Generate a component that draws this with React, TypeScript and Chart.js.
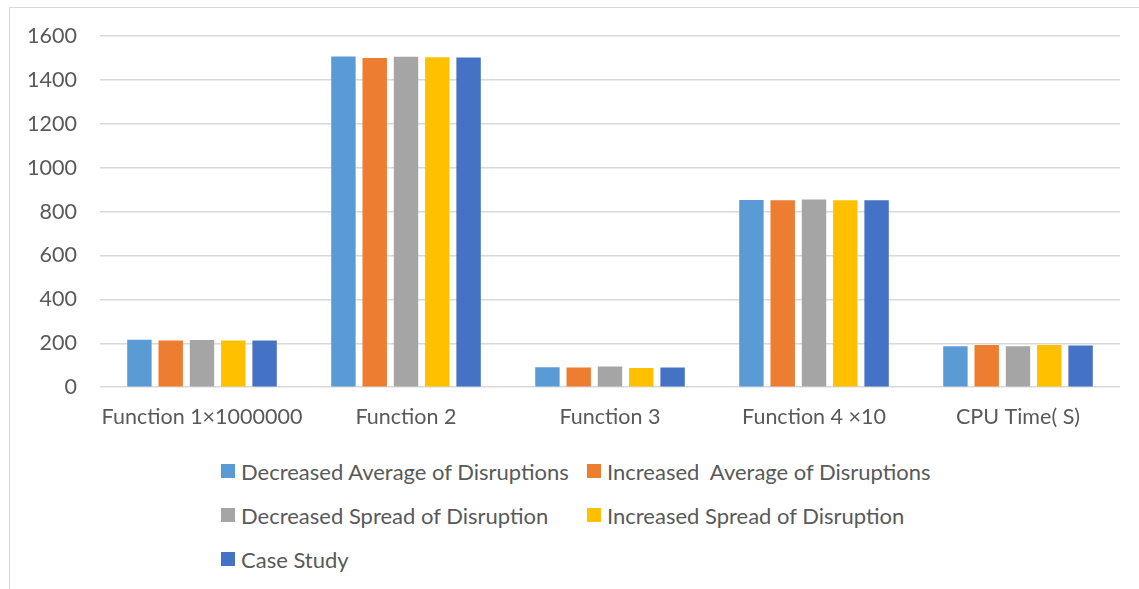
import React, { useEffect, useRef } from "react";
import { Chart, registerables } from "chart.js";

Chart.register(...registerables);

const categories = ["Function 1×1000000", "Function 2", "Function 3", "Function 4 ×10", "CPU Time( S)"];
const seriesNames = [
  "Decreased Average of Disruptions",
  "Increased  Average of Disruptions",
  "Decreased Spread of Disruption",
  "Increased Spread of Disruption",
  "Case Study",
];
const decreasedAverage = [216, 1507, 91, 853, 187];
const increasedAverage = [213, 1500, 90, 852, 192];
const decreasedSpread = [215, 1506, 94, 855, 187];
const increasedSpread = [213, 1503, 88, 852, 192];
const caseStudy = [213, 1502, 90, 852, 190];
const seriesValues = [decreasedAverage, increasedAverage, decreasedSpread, increasedSpread, caseStudy];
const seriesColors = ["#5B9BD5", "#ED7D31", "#A5A5A5", "#FFC000", "#4472C4"];
const yTicks = [0, 200, 400, 600, 800, 1000, 1200, 1400, 1600];

const FONT = "Lato, 'Open Sans', sans-serif";

export default function App() {
  const canvasRef = useRef<HTMLCanvasElement | null>(null);

  useEffect(() => {
    if (!canvasRef.current) return;
    const chart = new Chart(canvasRef.current, {
      type: "bar",
      data: {
        labels: categories,
        datasets: seriesNames.map((name, i) => ({
          label: name,
          data: seriesValues[i],
          backgroundColor: seriesColors[i],
          borderWidth: 0,
          categoryPercentage: 0.767,
          barPercentage: 0.78,
        })),
      },
      options: {
        animation: false,
        responsive: false,
        maintainAspectRatio: false,
        layout: { padding: { top: 36, right: 19, left: 0, bottom: 0 } },
        plugins: {
          legend: { display: false },
          tooltip: { enabled: false },
        },
        scales: {
          x: {
            grid: { display: false, drawTicks: false },
            border: { display: false },
            ticks: {
              color: "#595959",
              font: { family: FONT, size: 21.5 },
              padding: 17,
              maxRotation: 0,
              autoSkip: false,
            },
          },
          y: {
            min: 0,
            max: 1600,
            afterFit: (scale: any) => {
              scale.width = 100;
            },
            afterBuildTicks: (scale: any) => {
              scale.ticks = yTicks.map((v) => ({ value: v }));
            },
            grid: { color: "#d9d9d9", lineWidth: 1.5, drawTicks: false },
            border: { display: false },
            ticks: {
              color: "#595959",
              font: { family: FONT, size: 21.5 },
              padding: 23,
              callback: (v: any) => String(v),
            },
          },
        },
      },
    });
    return () => chart.destroy();
  }, []);

  const legendRows = [
    [0, 1],
    [2, 3],
    [4],
  ];

  return (
    <div style={{ position: "absolute", left: 0, top: 0, width: 1139, height: 589, background: "#fff", overflow: "hidden" }}>
      <div
        style={{
          position: "absolute",
          left: 9,
          top: 7,
          width: 1140,
          height: 600,
          borderLeft: "1px solid #d9d9d9",
          borderTop: "1px solid #d9d9d9",
        }}
      />
      <canvas ref={canvasRef} width={1139} height={447} style={{ position: "absolute", left: 0, top: 0 }} />
      {legendRows.map((row, r) =>
        row.map((idx, c) => (
          <div
            key={idx}
            style={{
              position: "absolute",
              left: c === 0 ? 221 : 587,
              top: 471 + r * 44 - 14,
              height: 28,
              display: "flex",
              alignItems: "center",
              fontFamily: FONT,
              fontSize: 22,
              color: "#595959",
              whiteSpace: "pre",
            }}
          >
            <span style={{ display: "inline-block", width: 14, height: 14, background: seriesColors[idx], marginRight: 6, flex: "none" }} />
            <span>{seriesNames[idx]}</span>
          </div>
        ))
      )}
    </div>
  );
}
